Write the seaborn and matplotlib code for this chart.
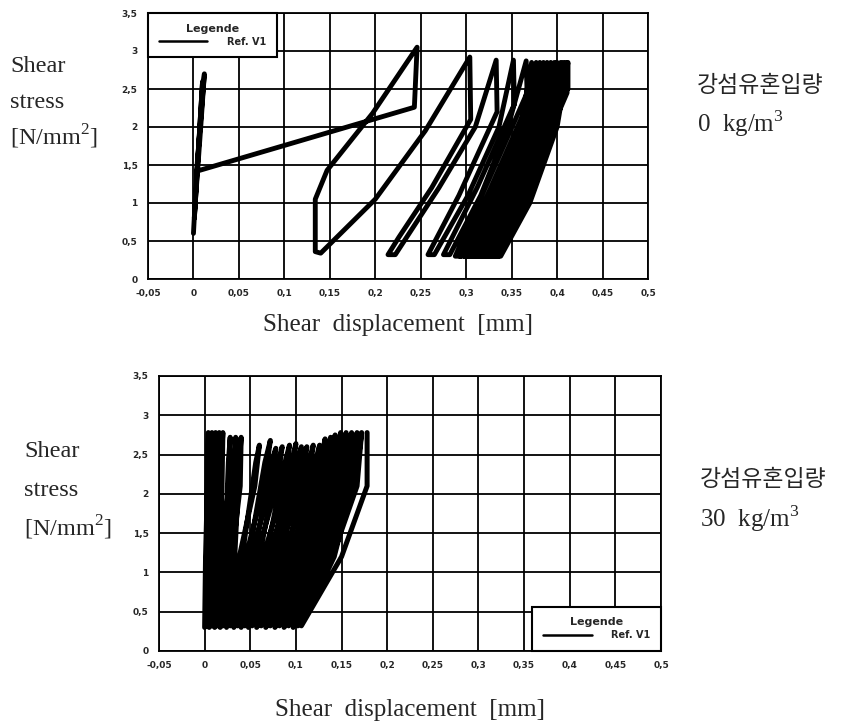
import matplotlib
matplotlib.use("Agg")
import matplotlib.pyplot as plt
import seaborn as sns

# ---- data ----
xticks = [-0.05, 0.0, 0.05, 0.1, 0.15, 0.2, 0.25, 0.3, 0.35, 0.4, 0.45, 0.5]
xtick_labels = ['-0,05', '0', '0,05', '0,1', '0,15', '0,2', '0,25', '0,3', '0,35', '0,4', '0,45', '0,5']
yticks = [0, 0.5, 1, 1.5, 2, 2.5, 3, 3.5]
ytick_labels = ['0', '0,5', '1', '1,5', '2', '2,5', '3', '3,5']

# 0 kg/m3 : load path (shear displacement [mm], shear stress [N/mm2])
top_x = [0.000, 0.004, 0.012, 0.008, 0.002, 0.001, 0.006, 0.010, 0.004,
         0.243, 0.246, 0.197, 0.147, 0.134, 0.134, 0.140, 0.200, 0.255, 0.304,
         0.305, 0.262, 0.226, 0.214, 0.222, 0.270, 0.310, 0.333,
         0.334, 0.292, 0.258, 0.265, 0.302, 0.336, 0.352,
         0.353, 0.312, 0.275, 0.282, 0.316, 0.346, 0.366,
         0.367, 0.321, 0.288, 0.294, 0.323, 0.360, 0.372,
         0.373, 0.327, 0.293, 0.299, 0.328, 0.365, 0.377,
         0.378, 0.332, 0.298, 0.304, 0.333, 0.369, 0.381,
         0.382, 0.336, 0.302, 0.308, 0.337, 0.373, 0.385,
         0.386, 0.340, 0.306, 0.312, 0.341, 0.377, 0.389,
         0.390, 0.344, 0.310, 0.316, 0.345, 0.381, 0.393,
         0.394, 0.348, 0.314, 0.320, 0.349, 0.385, 0.397,
         0.398, 0.352, 0.318, 0.324, 0.353, 0.388, 0.400,
         0.401, 0.355, 0.322, 0.328, 0.357, 0.392, 0.404,
         0.405, 0.359, 0.326, 0.332, 0.361, 0.395, 0.407,
         0.408, 0.362, 0.330, 0.336, 0.365, 0.398, 0.410,
         0.411, 0.366, 0.334, 0.338, 0.370, 0.400, 0.412, 0.412]
top_y = [0.60, 1.50, 2.70, 2.00, 1.00, 0.80, 1.80, 2.60, 1.42,
         2.26, 3.05, 2.18, 1.43, 1.05, 0.36, 0.34, 1.05, 1.95, 2.92,
         2.10, 1.20, 0.55, 0.32, 0.32, 1.20, 2.00, 2.88,
         2.20, 1.10, 0.32, 0.32, 1.10, 2.00, 2.88,
         2.30, 1.20, 0.32, 0.32, 1.10, 2.00, 2.87,
         2.45, 1.20, 0.30, 0.30, 1.00, 2.00, 2.85,
         2.45, 1.20, 0.30, 0.30, 1.00, 2.00, 2.85,
         2.45, 1.20, 0.30, 0.30, 1.00, 2.00, 2.85,
         2.45, 1.20, 0.30, 0.30, 1.00, 2.00, 2.85,
         2.45, 1.20, 0.30, 0.30, 1.00, 2.00, 2.85,
         2.45, 1.20, 0.30, 0.30, 1.00, 2.00, 2.85,
         2.45, 1.20, 0.30, 0.30, 1.00, 2.00, 2.85,
         2.45, 1.20, 0.30, 0.30, 1.00, 2.00, 2.85,
         2.45, 1.20, 0.30, 0.30, 1.00, 2.00, 2.85,
         2.45, 1.20, 0.30, 0.30, 1.00, 2.00, 2.85,
         2.45, 1.20, 0.30, 0.30, 1.00, 2.00, 2.85,
         2.45, 1.20, 0.30, 0.30, 1.00, 2.00, 2.85, 2.50]

# 30 kg/m3 : one row per load cycle, displacement read at fixed stress levels
bot_valley_x = [0.000, 0.002, 0.005, 0.008, 0.011, 0.014, 0.017, 0.020, 0.024,
                0.028, 0.032, 0.036, 0.040, 0.044, 0.048, 0.052, 0.057, 0.062,
                0.067, 0.072, 0.077, 0.082, 0.087, 0.092, 0.097, 0.102, 0.106]
bot_valley_y = [0.30, 0.32, 0.30, 0.32, 0.30, 0.32, 0.30, 0.32, 0.30,
                0.32, 0.30, 0.32, 0.30, 0.32, 0.30, 0.32, 0.30, 0.32,
                0.30, 0.32, 0.30, 0.32, 0.30, 0.32, 0.30, 0.32, 0.32]
bot_load_mid_x = [0.001, 0.004, 0.008, 0.012, 0.016, 0.020, 0.025, 0.030, 0.038,
                  0.045, 0.051, 0.057, 0.064, 0.070, 0.075, 0.080, 0.086, 0.092,
                  0.098, 0.104, 0.110, 0.116, 0.122, 0.128, 0.134, 0.140, 0.150]
bot_load_top_x = [0.003, 0.007, 0.011, 0.015, 0.019, 0.026, 0.033, 0.039, 0.055,
                  0.065, 0.072, 0.079, 0.087, 0.094, 0.100, 0.106, 0.113, 0.120,
                  0.126, 0.132, 0.137, 0.143, 0.149, 0.155, 0.161, 0.167, 0.178]
bot_peak_x = [0.004, 0.008, 0.012, 0.016, 0.020, 0.028, 0.034, 0.040, 0.060,
              0.072, 0.078, 0.085, 0.093, 0.100, 0.106, 0.112, 0.119, 0.126,
              0.132, 0.138, 0.143, 0.149, 0.155, 0.161, 0.167, 0.172, 0.178]
bot_peak_y = [2.78, 2.78, 2.78, 2.78, 2.78, 2.72, 2.72, 2.72, 2.62,
              2.68, 2.58, 2.60, 2.62, 2.64, 2.60, 2.60, 2.62, 2.62,
              2.70, 2.72, 2.75, 2.78, 2.78, 2.78, 2.78, 2.78, 2.78]
bot_unload_top_x = [0.003, 0.007, 0.011, 0.015, 0.018, 0.026, 0.032, 0.038, 0.056,
                    0.066, 0.073, 0.080, 0.088, 0.095, 0.101, 0.107, 0.114, 0.121,
                    0.127, 0.133, 0.138, 0.144, 0.150, 0.156, 0.162, 0.168, 0.178]
bot_unload_mid_x = [0.002, 0.006, 0.010, 0.014, 0.018, 0.022, 0.027, 0.033, 0.041,
                    0.048, 0.054, 0.060, 0.067, 0.073, 0.078, 0.083, 0.089, 0.095,
                    0.101, 0.107, 0.112, 0.118, 0.124, 0.130, 0.136, 0.142, 0.178]
# stress levels at which each cycle was read
load_mid_y, load_top_y, unload_top_y, unload_mid_y = 1.20, 2.10, 2.40, 1.20

series_label = 'Ref. V1'
fiber_text = '강섬유혼입량'
dosage_text = [r'0  kg/m$^\mathregular{3}$', r'30  kg/m$^\mathregular{3}$']

# assemble the 30 kg/m3 path cycle by cycle
bot_x, bot_y = [], []
for i in range(len(bot_valley_x)):
    bot_x += [bot_valley_x[i], bot_load_mid_x[i], bot_load_top_x[i], bot_peak_x[i],
              bot_unload_top_x[i], bot_unload_mid_x[i]]
    bot_y += [bot_valley_y[i], load_mid_y, load_top_y, bot_peak_y[i],
              unload_top_y, unload_mid_y]
bot_x, bot_y = bot_x[:-2], bot_y[:-2]

# ---- style ----
sns.set_style('white')
plt.rcParams['font.family'] = ['Liberation Serif', 'DejaVu Sans']
plt.rcParams['mathtext.fontset'] = 'custom'
plt.rcParams['mathtext.rm'] = 'Liberation Serif'

W, H = 846, 724
fig = plt.figure(figsize=(W / 100, H / 100), dpi=100)

ax_top = fig.add_axes([148 / W, 1 - 279 / H, 500 / W, 266 / H])
ax_bot = fig.add_axes([159 / W, 1 - 651 / H, 502 / W, 275 / H])


def style_axis(ax):
    ax.set_xlim(-0.05, 0.5)
    ax.set_ylim(0, 3.5)
    ax.set_xticks(xticks)
    ax.set_xticklabels(xtick_labels)
    ax.set_yticks(yticks)
    ax.set_yticklabels(ytick_labels)
    for lab in ax.get_xticklabels() + ax.get_yticklabels():
        lab.set_fontfamily('DejaVu Sans')
        lab.set_fontweight('heavy')
        lab.set_fontsize(6.5)
    ax.tick_params(direction='inout', length=7, width=1.2, color='black', pad=4)
    ax.grid(True, color='black', lw=1.3)
    ax.set_axisbelow(True)
    for sp in ax.spines.values():
        sp.set_color('black')
        sp.set_linewidth(1.3)
    ax.set_xlabel('')
    ax.set_ylabel('')


sns.lineplot(x=top_x, y=top_y, sort=False, estimator=None, color='black',
             lw=3.5, ax=ax_top, label=series_label)
sns.lineplot(x=bot_x, y=bot_y, sort=False, estimator=None, color='black',
             lw=3.6, ax=ax_bot, label=series_label)

for ax, loc in [(ax_top, 'upper left'), (ax_bot, 'lower right')]:
    style_axis(ax)
    leg = ax.legend(title='Legende', loc=loc, borderaxespad=0, frameon=True,
                    fancybox=False, edgecolor='black', framealpha=1,
                    handlelength=5.0, handletextpad=2.0, borderpad=1.1,
                    labelspacing=0.3,
                    prop={'family': 'DejaVu Sans', 'weight': 'bold', 'size': 7},
                    title_fontproperties={'family': 'DejaVu Sans', 'weight': 'heavy', 'size': 8})
    leg.get_frame().set_linewidth(1.5)
    for ln in leg.get_lines():
        ln.set_linewidth(1.8)

# axis titles as set in the paper
xlabel = 'Shear  displacement  [mm]'
fig.text(398 / W, 1 - 325 / H, xlabel, ha='center', va='center', fontsize=18)
fig.text(410 / W, 1 - 710 / H, xlabel, ha='center', va='center', fontsize=18)

ylab_lines = ['Shear', 'stress', r'[N/mm$^\mathregular{2}$]']
for x0, ys in [(10, [67, 103, 137]), (24, [452, 490, 528])]:
    for txt, yy in zip(ylab_lines, ys):
        fig.text(x0 / W, 1 - yy / H, txt, ha='left', va='center', fontsize=17.5)

for (x0, y0), dose in zip([(697, 85), (700, 480)], dosage_text):
    fig.text(x0 / W, 1 - y0 / H, fiber_text, ha='left', va='center',
             fontsize=16.5, family=['Noto Sans CJK KR', 'DejaVu Sans'])
    fig.text(x0 / W, 1 - (y0 + 39) / H, dose, ha='left', va='center', fontsize=18)

fig.savefig('out.png', dpi=100)
